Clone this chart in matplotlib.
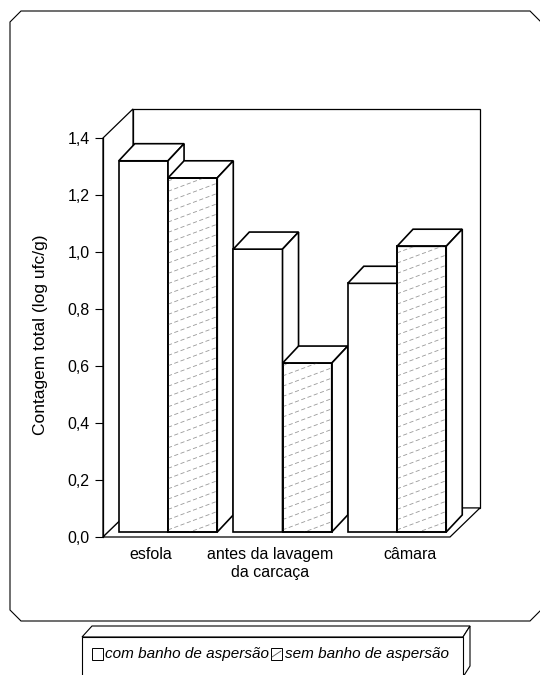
import matplotlib
matplotlib.use("Agg")
import matplotlib.pyplot as plt
import matplotlib.patches as pat
import numpy as np

plt.rcParams['font.family'] = ['Liberation Sans', 'DejaVu Sans']

# dados do grafico
categories = ['esfola', 'antes da lavagem\nda carcaça', 'câmara']
series_names = ['com banho de aspersão', 'sem banho de aspersão']
com_banho = [1.32, 1.01, 0.89]
sem_banho = [1.26, 0.61, 1.02]
y_ticks = [0.0, 0.2, 0.4, 0.6, 0.8, 1.0, 1.2, 1.4]
y_tick_labels = ['0,0', '0,2', '0,4', '0,6', '0,8', '1,0', '1,2', '1,4']
y_label = 'Contagem total (log ufc/g)'

W, H = 540, 675


def fx(x):
    return x / W


def fy(y):
    return 1 - y / H


fig = plt.figure(figsize=(W / 100, H / 100), dpi=100)

# moldura externa (cantos chanfrados)
c = 11
frame = [(10 + c, 11), (541 - c, 11), (541, 11 + c), (541, 621 - c),
         (541 - c, 621), (10 + c, 621), (10, 621 - c), (10, 11 + c)]
fig.add_artist(pat.Polygon([(fx(a), fy(b)) for a, b in frame], closed=True,
                           fill=False, ec='black', lw=0.8,
                           transform=fig.transFigure))

ax = fig.add_axes([fx(103), fy(537), fx(450 - 103), (537 - 138) / H])
x0, x1 = -0.568, 2.463
ymax = 1.4
ax.set_xlim(x0, x1)
ax.set_ylim(0, ymax)
ax.patch.set_visible(False)
for s in ['top', 'right', 'bottom']:
    ax.spines[s].set_visible(False)
ax.spines['left'].set_linewidth(0.9)
ax.spines['left'].set_zorder(50)
ax.set_xticks([])
ax.set_yticks(y_ticks)
ax.set_yticklabels(y_tick_labels, fontsize=11.5)
ax.tick_params(axis='y', direction='out', length=6, width=0.8, pad=3.5)

# profundidade das paredes e das barras (unidades de dados)
wdx, wdy = 0.262, 0.102
bdx, bdy = 0.140, 0.060
bw = 0.43
fz = 0.0175
lk = dict(ec='black', lw=0.9, fc='white', clip_on=False)

# parede do fundo, parede lateral e piso
ax.add_patch(pat.Polygon([(x0 + wdx, wdy), (x1 + wdx, wdy),
                          (x1 + wdx, ymax + wdy), (x0 + wdx, ymax + wdy)],
                         zorder=1, **lk))
ax.add_patch(pat.Polygon([(x0, 0), (x0 + wdx, wdy), (x0 + wdx, ymax + wdy),
                          (x0, ymax)], zorder=1, **lk))
ax.add_patch(pat.Polygon([(x0, 0), (x1, 0), (x1 + wdx, wdy), (x0 + wdx, wdy)],
                         zorder=2, **lk))

# barras 3D, da esquerda para a direita
z = 10
for i in range(len(categories)):
    for j, vals in enumerate([com_banho, sem_banho]):
        v = vals[i]
        xl = i - bw if j == 0 else i
        xr = xl + bw
        bars = ax.bar(xl, v - fz, bottom=fz, width=bw, align='edge',
                      color='white', edgecolor='black', linewidth=1.2,
                      zorder=z, clip_on=False)
        ax.add_patch(pat.Polygon([(xl, v), (xr, v), (xr + bdx, v + bdy),
                                  (xl + bdx, v + bdy)], closed=True, fc='white',
                                 ec='black', lw=1.2, zorder=z, clip_on=False))
        ax.add_patch(pat.Polygon([(xr, fz), (xr + bdx, fz + bdy),
                                  (xr + bdx, v + bdy), (xr, v)], closed=True,
                                 fc='white', ec='black', lw=1.2, zorder=z,
                                 clip_on=False))
        if j == 1:
            # hachura inclinada tracejada
            s, sp = 0.15, 0.036
            for cc in np.arange(fz - s * bw, v, sp):
                ln, = ax.plot([xl, xr], [cc, cc + s * bw], color='#999999',
                              lw=0.6, ls=(0, (5, 3)), zorder=z,
                              clip_on=True)
                ln.set_clip_path(bars.patches[0])
            # redesenha a borda da face frontal
            ax.add_patch(pat.Rectangle((xl, fz), bw, v - fz, fill=False,
                                       ec='black', lw=1.2, zorder=z,
                                       clip_on=False))
        z += 1

# rotulos das categorias
label_dx = [-0.15, -0.11, 0.11]
for i, cat in enumerate(categories):
    ax.text(i + label_dx[i], -0.035, cat, ha='center', va='top',
            fontsize=11.5, linespacing=1.25)

fig.text(fx(41), fy(335), y_label, rotation=90, ha='center', va='center',
         fontsize=12.5)

# caixa da legenda 3D
leg_front = [(82, 637), (463, 637), (463, 677), (82, 677)]
leg_top = [(82, 637), (92, 626), (470, 626), (463, 637)]
leg_side = [(463, 637), (470, 626), (470, 666), (463, 677)]
for poly in [leg_top, leg_side, leg_front]:
    fig.add_artist(pat.Polygon([(fx(a), fy(b)) for a, b in poly], closed=True,
                               fc='white', ec='black', lw=0.8,
                               transform=fig.transFigure))

sw = 11
fig.add_artist(pat.Rectangle((fx(92), fy(660)), sw / W, 12 / H, fc='white',
                             ec='black', lw=0.7, transform=fig.transFigure))
fig.add_artist(pat.Rectangle((fx(271), fy(660)), sw / W, 12 / H, fc='white',
                             ec='black', lw=0.7, transform=fig.transFigure))
fig.add_artist(plt.Line2D([fx(272), fx(281)], [fy(657), fy(651)],
                          color='#555555', lw=0.6, transform=fig.transFigure))
fig.text(fx(105), fy(654), series_names[0], ha='left', va='center',
         fontsize=11, style='italic')
fig.text(fx(285), fy(654), series_names[1], ha='left', va='center',
         fontsize=11, style='italic')

fig.savefig('out.png', dpi=100)
